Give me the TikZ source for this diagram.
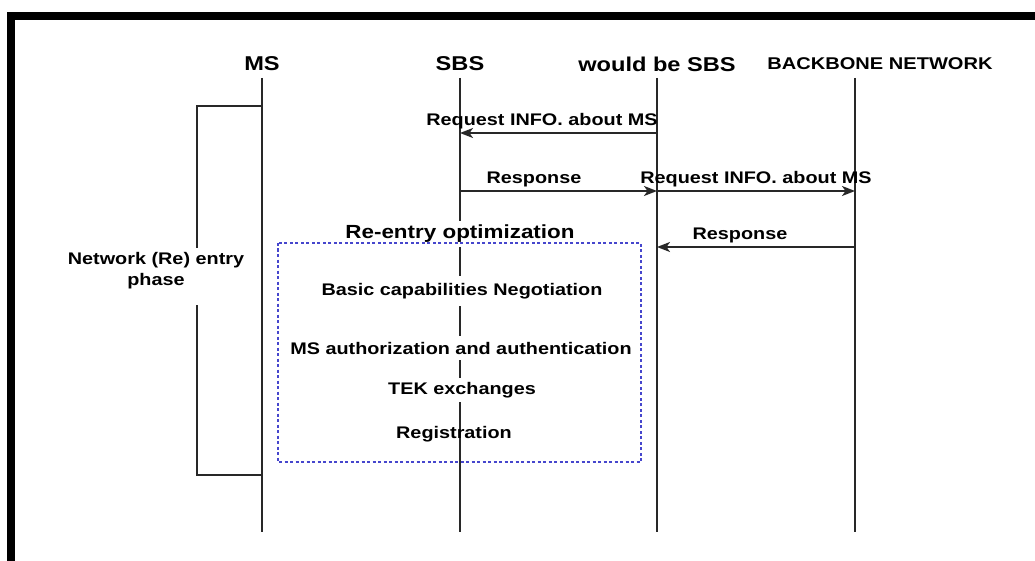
\documentclass[tikz,border=0pt]{standalone}
\usepackage{fontspec}
\setmainfont[FakeStretch=1.18]{Liberation Sans}
\usetikzlibrary{arrows.meta}
\definecolor{framegray}{RGB}{40,40,40}
\definecolor{phaseblue}{RGB}{70,70,205}
\begin{document}
\begin{tikzpicture}[x=1pt,y=-1pt,
  head/.style={font=\fontsize{20}{24}\selectfont\bfseries, inner sep=0pt},
  lbl/.style={font=\fontsize{16.8}{21}\selectfont\bfseries, inner sep=0pt},
  steptext/.style={lbl, fill=white, inner xsep=1pt},
  life/.style={line width=1.8pt, draw=framegray},
  msg/.style={line width=1.8pt, draw=framegray, -{Stealth[length=13pt,width=10pt,inset=3.5pt]}},
  phasebox/.style={line width=1.5pt, draw=phaseblue, dash pattern=on 3pt off 2.5pt},
]
\useasboundingbox (0,0) rectangle (1035,561);
\fill[white] (0,0) rectangle (1035,561);

% outer frame (top and left edges)
\draw[line width=8pt, line join=miter] (11,561) -- (11,16) -- (1035,16);

% entity headings
\node[head] (ms)   at (262,64) {MS};
\node[head] (sbs)  at (460,64) {SBS};
\node[head] (wsbs) at (657,64) {would be SBS};
\node[head, font=\fontsize{17}{20}\selectfont\bfseries] (bb) at (880,64) {BACKBONE NETWORK};

% lifeline ends
\coordinate (ms-t)   at (262,78);  \coordinate (ms-b)   at (262,532);
\coordinate (sbs-t)  at (460,78);  \coordinate (sbs-b)  at (460,532);
\coordinate (wsbs-t) at (657,78);  \coordinate (wsbs-b) at (657,532);
\coordinate (bb-t)   at (855,78);  \coordinate (bb-b)   at (855,532);

\draw[life] (ms-t) -- (ms-b);
\draw[life] (sbs-t) -- (sbs-b);
\draw[life] (wsbs-t) -- (wsbs-b);
\draw[life] (bb-t) -- (bb-b);

% message end points
\coordinate (r1-from) at (657,133); \coordinate (r1-to) at (460,133);
\coordinate (a1-from) at (460,191); \coordinate (a1-to) at (657,191);
\coordinate (r2-from) at (657,191); \coordinate (r2-to) at (855,191);
\coordinate (a2-from) at (855,247); \coordinate (a2-to) at (657,247);

\draw[msg] (r1-from) -- (r1-to);
\draw[msg] (a1-from) -- (a1-to);
\draw[msg] (r2-from) -- (r2-to);
\draw[msg] (a2-from) -- (a2-to);

\node[lbl] (r1-lbl) at (542,121) {Request INFO. about MS};
\node[lbl] (a1-lbl) at (534,179) {Response};
\node[lbl] (r2-lbl) at (756,179) {Request INFO. about MS};
\node[lbl] (a2-lbl) at (740,235) {Response};

% network (re)entry bracket
\coordinate (br-top)  at (262,106); \coordinate (br-tc) at (197,106);
\coordinate (br-mid1) at (197,248); \coordinate (br-mid2) at (197,305);
\coordinate (br-bc)   at (197,475); \coordinate (br-bot) at (262,475);
\draw[life] (br-top) -- (br-tc) -- (br-mid1);
\draw[life] (br-mid2) -- (br-bc) -- (br-bot);
\node[lbl, align=center] (phase) at (156,271) {Network (Re) entry\\phase};

% re-entry optimization steps
\node[steptext, font=\fontsize{19}{22}\selectfont\bfseries, inner ysep=4pt] (reopt) at (460,234) {Re-entry optimization};
\node[steptext, inner ysep=7pt]   (basic) at (462,291) {Basic capabilities Negotiation};
\node[steptext, inner ysep=5.5pt] (auth)  at (461,348) {MS authorization and authentication};
\node[steptext, inner ysep=4.5pt] (tek)   at (462,390) {TEK exchanges};
\node[lbl] (reg) at (454,434) {Registration};

\draw[phasebox] (278,243) rectangle (641,462);
\end{tikzpicture}
\end{document}
